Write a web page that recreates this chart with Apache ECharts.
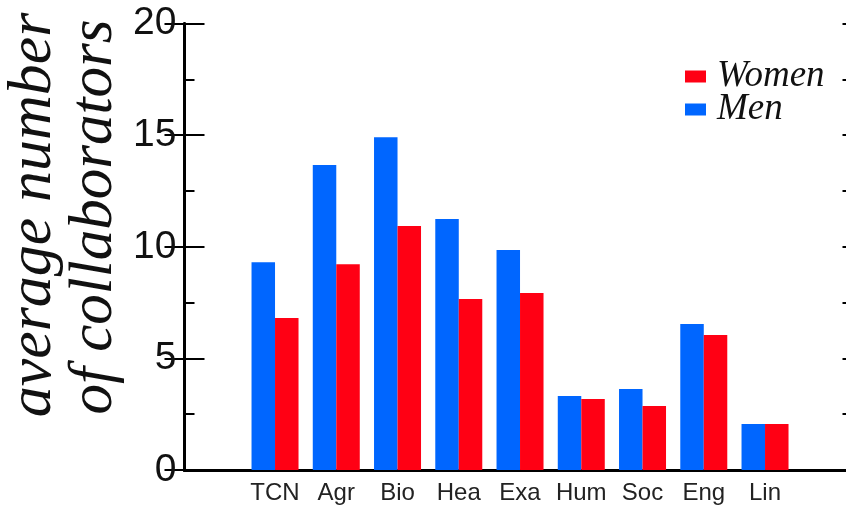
<!DOCTYPE html>
<html>
<head>
<meta charset="utf-8">
<script src="https://cdn.jsdelivr.net/npm/echarts@6/dist/echarts.min.js"></script>
<style>
  html, body { margin: 0; padding: 0; background: #fff; }
  #chart { width: 846px; height: 511px; }
</style>
</head>
<body>
<div id="chart"></div>
<script>
// Fields of research
const categories = ['TCN', 'Agr', 'Bio', 'Hea', 'Exa', 'Hum', 'Soc', 'Eng', 'Lin'];
// Average number of collaborators per field
const menValues   = [9.31, 13.66, 14.91, 11.24, 9.85, 3.31, 3.63, 6.54, 2.06];
const womenValues = [6.81, 9.22, 10.93, 7.66, 7.93, 3.18, 2.87, 6.05, 2.06];
// Value axis range, major and minor tick steps
const yMin = 0;
const yMax = 20;
const yStep = 5;
const yMinorStep = 2.5;

const BLUE = '#0066ff';
const RED = '#ff0014';
const INK = '#111';
const SANS = '"Liberation Sans", Arial, sans-serif';
const SERIF = '"Liberation Serif", "Times New Roman", serif';

const chart = echarts.init(document.getElementById('chart'), null, { renderer: 'canvas' });

const frameTop = 23.5;
const frameBottom = 41;

// frame axis with ticks pointing into the plot
function frameYAxis(position, step, tickLen, withLine, withLabels) {
  return {
    gridIndex: 0, type: 'value', min: yMin, max: yMax, interval: step, position: position,
    axisLine: { show: withLine, lineStyle: { color: '#000', width: 3 } },
    axisTick: { show: true, inside: true, length: tickLen, lineStyle: { color: '#000', width: 2 } },
    axisLabel: withLabels
      ? { show: true, margin: 8, fontFamily: SANS, fontSize: 39, color: INK }
      : { show: false },
    splitLine: { show: false }
  };
}

chart.setOption({
  animation: false,
  backgroundColor: '#fff',
  grid: [
    // frame box; its right edge runs just past the canvas
    { left: 184.5, top: frameTop, width: 668, bottom: frameBottom, outerBoundsMode: 'none' },
    // bar area
    { left: 244.4, top: frameTop, width: 551.25, bottom: frameBottom, outerBoundsMode: 'none' }
  ],
  legend: {
    data: ['Women', 'Men'],
    orient: 'vertical',
    left: 680,
    top: 53,
    itemWidth: 21,
    itemHeight: 12,
    itemGap: -4,
    icon: 'rect',
    selectedMode: false,
    textStyle: {
      fontFamily: SERIF,
      fontStyle: 'italic',
      fontSize: 37,
      color: INK,
      padding: [0, 0, 0, 6]
    }
  },
  xAxis: [
    {
      gridIndex: 0, type: 'value', min: 0, max: 1, position: 'bottom',
      axisLine: { show: true, lineStyle: { color: '#000', width: 3 } },
      axisTick: { show: false }, axisLabel: { show: false }, splitLine: { show: false }
    },
    {
      gridIndex: 0, type: 'value', min: 0, max: 1, position: 'top',
      axisLine: { show: true, lineStyle: { color: '#000', width: 3 } },
      axisTick: { show: false }, axisLabel: { show: false }, splitLine: { show: false }
    },
    {
      gridIndex: 1, type: 'category', data: categories, position: 'bottom',
      axisLine: { show: false }, axisTick: { show: false },
      axisLabel: {
        interval: 0, margin: 11, fontFamily: SANS, fontSize: 24, color: '#222'
      }
    }
  ],
  yAxis: [
    frameYAxis('left', yStep, 20, true, true),
    frameYAxis('right', yStep, 20, true, false),
    frameYAxis('left', yMinorStep, 10, false, false),
    frameYAxis('right', yMinorStep, 10, false, false),
    {
      gridIndex: 1, type: 'value', min: yMin, max: yMax, show: false
    }
  ],
  series: [
    {
      name: 'Men', type: 'bar', xAxisIndex: 2, yAxisIndex: 4,
      data: menValues, barWidth: 23.5, barGap: '0%',
      itemStyle: { color: BLUE }
    },
    {
      name: 'Women', type: 'bar', xAxisIndex: 2, yAxisIndex: 4,
      data: womenValues, barWidth: 23.5, barGap: '0%',
      itemStyle: { color: RED }
    }
  ],
  graphic: [
    {
      type: 'text', x: 34, y: 215, rotation: Math.PI / 2,
      style: {
        text: 'average number', align: 'center', verticalAlign: 'middle',
        fontFamily: SERIF, fontStyle: 'italic', fontSize: 62, fill: INK
      }
    },
    {
      type: 'text', x: 95, y: 217, rotation: Math.PI / 2,
      style: {
        text: 'of collaborators', align: 'center', verticalAlign: 'middle',
        fontFamily: SERIF, fontStyle: 'italic', fontSize: 61, fill: INK
      }
    }
  ]
});
</script>
</body>
</html>
